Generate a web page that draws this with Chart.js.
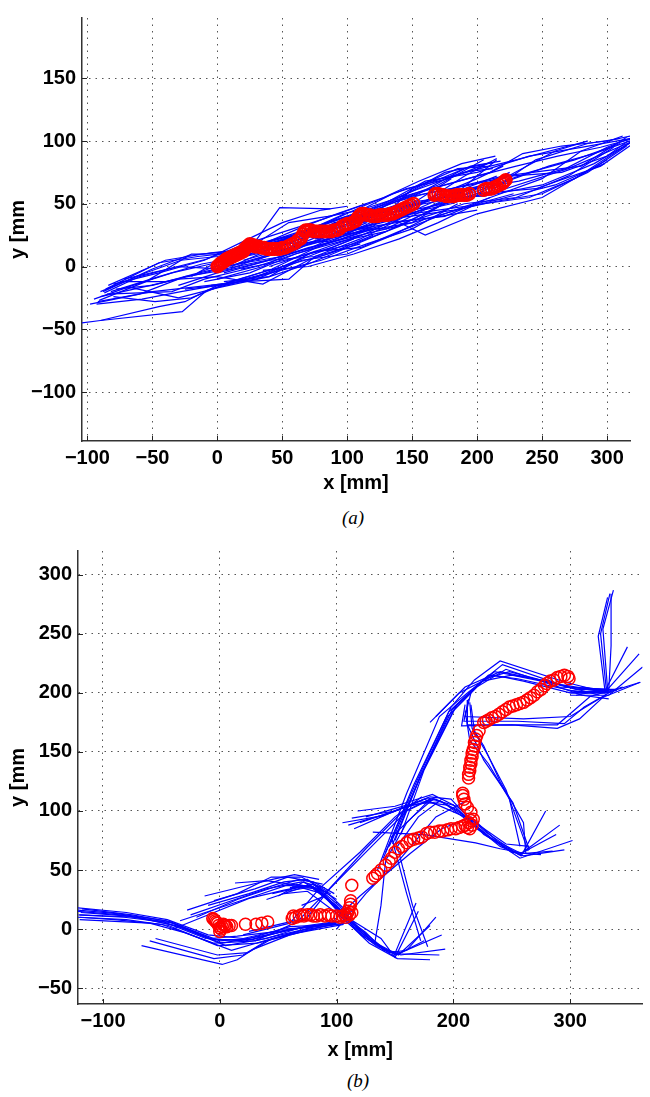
<!DOCTYPE html>
<html>
<head>
<meta charset="utf-8">
<script src="https://cdn.jsdelivr.net/npm/chart.js@4.4.1/dist/chart.umd.min.js"></script>
<style>
  html, body { margin: 0; padding: 0; background: #fff; }
  body { width: 650px; height: 1097px; position: relative; overflow: hidden; }
  canvas { position: absolute; left: 0; }
  #chartA { top: 0; width: 650px; height: 497px; }
  #chartB { top: 530px; width: 650px; height: 534px; }
  .caption { position: absolute; font-family: "Liberation Serif", serif; font-style: italic; font-size: 19px; color: #000; transform: translateX(-50%); }
</style>
</head>
<body>
<canvas id="chartA" width="650" height="497"></canvas>
<canvas id="chartB" width="650" height="534"></canvas>
<div class="caption" style="left:353px; top:507px;">(a)</div>
<div class="caption" style="left:358px; top:1070px;">(b)</div>
<script>
// ---- (a) straight swim ----
const topXTicks = [-100, -50, 0, 50, 100, 150, 200, 250, 300];
const topYTicks = [-100, -50, 0, 50, 100, 150];

// body outlines, tail side
const topTailBodies = [
  [[-105,-45],[-90,-43],[-27,-36],[-8,-19],[30,-8],[70,8],[105,22]],
  [[-90,-43],[-45,-32],[-25,-28],[0,-15],[40,-5],[75,12],[110,25]],
  [[-91,-27],[-55,-12],[-20,10],[5,10],[40,20],[70,30],[100,40]],
  [[-88,-20],[-50,-2],[-22,9],[10,12],[45,22],[75,28],[105,38]],
  [[-86,-18],[-45,3],[-15,8],[20,12],[55,35],[85,40],[110,45]],
  [[-90,-24],[-60,-17],[-30,-10],[0,-8],[35,-14],[70,5],[100,15]],
  [[-92,-28],[-50,-20],[-15,-16],[20,-12],[55,-10],[75,8],[110,18]],
  [[-84,-15],[-40,5],[-5,11],[25,14],[48,47],[87,46]],
  [[-80,-14],[-45,-5],[-10,5],[28,24],[50,35],[80,45],[100,48]],
  [[-85,-22],[-35,-20],[-10,-10],[30,0],[60,10],[90,20],[120,30]],
  [[-75,-12],[-40,-12],[-10,-5],[25,5],[60,15],[95,28],[125,35]],
  [[-70,-16],[-30,-25],[0,-17],[40,-8],[70,2],[100,15],[130,28]],
  [[-82,-20],[-45,-8],[-12,2],[20,8],[55,18],[85,32],[118,42]],
  [[-98,-30],[-60,-22],[-25,-8],[10,-2],[45,12],[80,20],[115,35]],
  [[-95,-26],[-65,-15],[-35,-5],[-5,2],[30,10],[65,22],[100,30]],
  [[-90,-20],[-55,-5],[-28,5],[0,8],[35,18],[68,28],[98,42]],
  [[-87,-21],[-60,-8],[-30,0],[5,-2],[38,5],[72,15],[108,32]],
  [[-93,-30],[-58,-26],[-28,-20],[5,-14],[42,-2],[78,16],[112,28]],
  [[-80,-24],[-48,-28],[-20,-25],[10,-12],[50,0],[85,10],[120,25]],
  [[-78,-18],[-50,-15],[-18,-6],[15,2],[50,8],[88,20],[124,38]],
  [[-72,-10],[-38,-2],[-8,6],[22,18],[52,28],[82,38],[115,50]]
];
// middle of the run
const topMidBodies = [
  [[-30,-15],[0,-5],[40,5],[70,15],[110,25],[150,35],[190,60]],
  [[-20,-8],[10,10],[45,20],[75,30],[110,38],[150,50],[180,70]],
  [[-10,-12],[25,-5],[60,10],[95,20],[130,28],[165,45],[200,62]],
  [[0,-10],[35,0],[70,18],[100,30],[135,52],[170,65],[205,85]],
  [[10,0],[45,10],[80,25],[110,45],[140,55],[175,75],[213,83]],
  [[5,-5],[40,5],[75,8],[110,22],[145,40],[180,55],[215,85]],
  [[15,2],[50,18],[85,20],[120,32],[150,62],[185,78],[210,80]],
  [[20,5],[55,15],[90,35],[125,40],[160,52],[190,72],[215,86]],
  [[-5,-15],[30,-10],[65,5],[100,10],[135,25],[160,38],[200,45]],
  [[25,10],[60,25],[95,38],[130,50],[160,65],[195,80],[218,84]],
  [[30,5],[65,18],[100,25],[135,35],[165,55],[200,70],[220,80]],
  [[35,15],[70,30],[105,42],[135,58],[165,68],[195,76],[212,78]],
  [[40,0],[75,12],[110,15],[140,28],[175,42],[210,55]],
  [[-15,-5],[20,8],[55,22],[85,30],[120,45],[155,58],[190,78]],
  [[-25,-18],[10,-14],[45,-4],[80,5],[115,18],[150,30],[185,50]],
  [[5,-12],[40,-8],[70,10],[105,18],[140,32],[170,48],[205,60]],
  [[12,8],[48,20],[78,32],[112,48],[145,62],[178,70],[210,83]],
  [[18,-2],[52,5],[88,15],[118,28],[152,45],[185,60],[215,72]],
  [[28,15],[62,30],[92,42],[128,55],[155,68],[188,82],[214,88]],
  [[45,10],[80,20],[115,32],[145,48],[178,58],[205,65],[225,75]],
  [[35,-3],[70,0],[105,10],[140,22],[170,35],[200,50],[228,58]]
];
// head side, end of the run
const topHeadBodies = [
  [[50,20],[90,30],[130,40],[160,25],[200,42],[250,55],[300,85]],
  [[60,25],[95,32],[130,45],[170,52],[210,58],[270,78],[320,100]],
  [[70,28],[110,40],[145,55],[180,62],[220,72],[280,80],[315,103]],
  [[80,30],[115,45],[150,60],[190,75],[230,85],[285,100]],
  [[90,32],[125,48],[160,68],[200,75],[240,88],[280,95],[318,102]],
  [[100,35],[140,50],[175,55],[205,56],[250,65],[290,82],[320,100]],
  [[110,40],[145,42],[180,50],[210,60],[245,85],[285,98],[310,102]],
  [[120,45],[155,50],[190,60],[220,70],[260,92],[285,100]],
  [[95,30],[130,30],[165,48],[200,58],[245,62],[295,80],[320,98]],
  [[105,38],[140,36],[175,40],[210,55],[250,70],[280,92],[312,104]],
  [[115,42],[150,45],[185,52],[215,65],[255,80],[290,90],[320,101]],
  [[125,48],[160,58],[195,65],[225,72],[265,75],[300,88],[316,100]],
  [[85,25],[120,32],[155,38],[190,50],[230,55],[270,72],[305,95]],
  [[130,50],[165,62],[200,72],[230,80],[262,88],[295,95],[320,102]],
  [[135,40],[170,45],[205,50],[240,55],[275,70],[305,90],[320,100]],
  [[140,55],[175,65],[210,75],[235,90],[265,96],[300,100],[318,104]],
  [[75,22],[112,28],[150,35],[185,45],[222,55],[260,65],[298,82]],
  [[100,28],[138,38],[170,50],[205,62],[240,75],[275,85],[310,98]],
  [[110,35],[148,40],[182,45],[215,52],[250,58],[285,75],[315,96]],
  [[128,40],[162,52],[198,62],[232,68],[268,78],[300,95],[320,103]]
];
// centroid positions (red circles)
const topCentroids = [
  [0,0],[1,1],[2,2],[3,3],[4,3],[5,4],[6,5],[7,6],[8,6],[9,7],[10,7],[11,8],[12,8],[13,9],[14,9],
  [15,10],[16,10],[17,11],[18,11],[19,12],[20,12],[21,14],[22,15],[23,16],[24,17],[25,18],[26,17],
  [27,17],[28,17],[29,16],[30,16],[32,16],[34,15],[36,15],[38,14],[40,14],[42,14],[44,14],[46,14],
  [48,14],[50,15],[52,15],[54,16],[56,17],[58,18],[60,19],[62,21],[64,22],[65,24],[66,26],[67,28],
  [68,29],[70,29],[72,29],[74,28],[76,28],[78,28],[80,28],[82,28],[84,28],[86,28],[88,28],[90,29],
  [92,29],[94,30],[96,32],[98,33],[100,34],[102,34],[104,35],[106,36],[107,37],[108,39],[109,40],
  [110,41],[111,42],[113,42],[115,41],[117,41],[119,40],[121,40],[123,40],[125,41],[127,41],[129,41],
  [131,41],[133,42],[135,42],[137,43],[139,44],[141,45],[143,46],[145,47],[147,48],[149,49],[151,50],
  [167,57],[168,58],[170,58],[172,57],[174,57],[176,56],[178,56],[180,56],[182,56],[184,57],[186,57],
  [188,57],[190,57],[192,57],[194,58],[205,61],[207,62],[209,62],[211,62],[213,63],[215,64],[217,65],
  [219,66],[220,67],[221,68],[222,69]
];

// ---- (b) turning swim ----
const bottomXTicks = [-100, 0, 100, 200, 300];
const bottomYTicks = [-50, 0, 50, 100, 150, 200, 250, 300];

const bottomTailBodies = [
  [[-122,18],[-80,14],[-45,8],[-10,-5],[20,-8],[55,0],[95,3],[115,6]],
  [[-122,15],[-85,12],[-40,5],[0,-10],[25,-8],[60,2],[100,4]],
  [[-122,10],[-90,8],[-50,4],[-5,-12],[30,-10],[65,-2],[105,5]],
  [[-120,12],[-70,10],[-35,2],[5,-14],[40,-8],[75,3],[112,8]],
  [[-118,17],[-75,12],[-42,6],[-8,-8],[15,-6],[50,-2],[90,4]],
  [[-120,8],[-60,5],[-30,-3],[10,-18],[45,-8],[80,0]],
  [[-119,14],[-78,11],[-38,3],[2,-12],[35,-6],[70,1],[108,7]],
  [[-121,12],[-82,10],[-48,6],[-12,-8],[22,-10],[58,-1],[98,5]],
  [[-122,16],[-88,13],[-46,7],[-6,-9],[28,-9],[62,0],[102,6]],
  [[-120,10],[-80,8],[-44,3],[-2,-14],[32,-12],[68,-3],[106,4]],
  [[-67,-14],[2,-30],[15,-26],[29,-17],[60,-5],[100,5]],
  [[-60,-10],[-5,-25],[20,-22],[40,-10],[80,2]],
  [[-55,-8],[-2,-22],[24,-20],[45,-8],[85,3]]
];
const bottomFanBodies = [
  [[-34,7],[0,18],[30,28],[57,37],[78,36],[95,30]],
  [[-13,28],[20,36],[45,42],[64,46],[85,42]],
  [[-25,12],[10,24],[40,34],[70,40],[90,35]],
  [[-40,0],[-5,14],[25,26],[55,33],[80,38],[100,25]],
  [[13,39],[40,41],[60,38],[78,36],[100,20],[110,10]],
  [[-10,20],[25,30],[55,40],[75,42],[95,28],[112,12]],
  [[-28,16],[15,30],[44,44],[70,44],[92,32]],
  [[-20,10],[15,25],[48,36],[68,42],[88,38]],
  [[-5,24],[30,34],[58,44],[80,40],[98,30]]
];
const bottomMidBodies = [
  [[60,35],[78,37],[95,22],[107,10],[121,-5],[149,-23],[168,22]],
  [[65,38],[82,35],[100,18],[115,2],[130,-10],[153,-22],[180,3]],
  [[55,30],[75,32],[98,15],[118,-2],[135,-15],[155,-22],[193,-17]],
  [[50,28],[72,40],[92,25],[110,5],[128,-12],[152,-25],[180,-26]],
  [[70,20],[90,28],[105,12],[125,-3],[140,-18],[155,-20],[190,-5]],
  [[40,25],[70,35],[88,30],[112,8],[138,-8],[150,-24],[170,15]],
  [[45,30],[80,38],[102,20],[120,0],[145,-20],[160,-18],[185,10]],
  [[58,32],[80,36],[99,20],[116,3],[133,-12],[151,-22],[175,-10]],
  [[62,36],[84,34],[103,16],[122,-4],[142,-18],[154,-21],[188,-22]],
  [[20,-5],[60,5],[85,34],[120,65],[150,95],[173,112]],
  [[30,-10],[75,10],[95,35],[130,70],[160,100],[185,112]],
  [[25,-2],[68,8],[90,30],[125,68],[155,98],[180,110]],
  [[95,5],[120,28],[163,64],[190,85],[215,95],[240,72]],
  [[100,0],[125,30],[155,60],[185,95],[210,108]],
  [[185,112],[165,95],[147,78],[160,30],[172,-10]],
  [[180,110],[160,90],[142,58],[138,20],[133,-10]],
  [[190,110],[170,95],[152,70],[165,20],[178,-15]]
];
const bottomUpperBodies = [
  [[113,94],[150,100],[180,112],[198,110],[226,80],[258,62],[279,100]],
  [[120,90],[155,102],[185,110],[205,100],[230,78],[258,64],[291,88]],
  [[115,85],[145,98],[175,110],[210,95],[235,75],[257,60],[302,75]],
  [[125,95],[160,105],[190,108],[215,90],[240,70],[260,62],[295,67]],
  [[131,82],[175,80],[219,73],[240,68],[262,64],[285,66]],
  [[118,100],[150,104],[182,114],[200,105],[220,85],[250,65],[275,63]],
  [[105,90],[140,96],[170,108],[195,105],[222,88],[245,72],[265,70]],
  [[110,88],[148,99],[178,111],[203,104],[228,82],[256,63],[288,80]],
  [[140,60],[166,122],[198,188],[218,211],[240,227],[296,209],[332,200]],
  [[145,70],[170,125],[195,180],[220,205],[245,220],[290,205],[330,203]],
  [[150,75],[172,130],[200,185],[225,210],[250,215],[300,205],[335,200]],
  [[155,80],[175,135],[203,190],[230,215],[255,212],[310,200],[340,202]],
  [[135,50],[160,115],[188,180],[212,200],[235,218],[280,210],[325,198]],
  [[142,65],[168,124],[196,184],[222,208],[242,224],[292,207],[331,201]],
  [[148,72],[171,128],[199,186],[227,212],[248,218],[305,203],[338,203]],
  [[180,175],[205,200],[235,215],[260,210],[300,200],[330,200]],
  [[185,180],[210,205],[240,218],[270,212],[310,198],[333,195]],
  [[210,190],[207,172],[250,173],[289,170],[308,178],[331,199]],
  [[212,194],[212,173],[254,173],[289,173],[317,197],[345,205]],
  [[215,200],[210,180],[260,178],[300,180],[325,195],[360,209]],
  [[213,195],[209,176],[255,176],[295,174],[312,188],[333,200]],
  [[212,194],[212,173],[226,143],[251,107],[265,67]],
  [[215,190],[218,168],[226,155],[240,125],[260,90],[262,64]],
  [[210,185],[214,160],[230,140],[248,110],[257,70]],
  [[214,192],[216,170],[228,150],[245,118],[259,80],[264,66]]
];
const bottomSpikeBodies = [
  [[300,200],[330,200],[324,248],[332,281]],
  [[305,198],[332,203],[328,254],[337,287]],
  [[310,205],[333,202],[335,240],[335,284]],
  [[303,201],[331,202],[326,250],[334,284]],
  [[295,205],[332,203],[359,233]],
  [[300,202],[331,200],[360,209]],
  [[305,200],[330,202],[349,239]],
  [[300,198],[333,198],[362,222]]
];
const bottomCentroids = [
  [-6,9],[-5,8],[-4,7],[-3,6],[-2,5],[-1,3],[0,1],[0,-2],[1,0],[2,2],[3,4],[4,3],[5,3],[6,2],[8,3],[10,3],
  [22,4],[31,4],[36,5],[41,6],
  [62,9],[63,11],[65,10],[68,11],[70,12],[72,11],[75,12],[78,12],[80,11],[83,11],[86,12],[90,11],[93,12],
  [96,11],[100,11],[103,10],[105,11],[107,12],[108,10],[109,13],[110,15],[111,18],[112,21],[112,24],
  [111,12],[113,14],
  [113,37],
  [131,43],[133,45],[135,47],[138,50],[142,54],[145,57],[147,60],[150,65],[153,68],[156,70],[160,73],
  [163,75],[166,76],[170,77],[173,78],[177,81],[180,82],[184,82],[188,83],[191,83],[195,84],[198,85],
  [202,85],[205,86],[208,87],[210,88],[212,86],[213,90],[215,92],[217,93],[216,88],[214,85],
  [208,115],[208,113],[209,110],[210,106],[212,103],[215,99],
  [213,128],[213,131],[214,134],[214,137],[215,140],[215,143],[216,146],[216,149],[217,152],[218,155],
  [218,158],[219,161],[220,164],[222,168],
  [226,175],[228,176],[230,177],[233,179],[236,180],[239,182],[242,184],[245,186],[248,188],[251,189],
  [254,190],[257,191],[260,192],[263,194],[266,196],[269,198],[272,201],[275,203],[278,206],[280,208],
  [283,210],[286,211],[289,213],[292,214],[295,215],[298,214],[299,212]
];

Chart.defaults.font.family = '"Liberation Sans", Arial, sans-serif';
Chart.defaults.font.size = 20;
Chart.defaults.font.weight = 'bold';
Chart.defaults.color = '#000';

// MATLAB style ticks pointing into the plot
const innerTicks = {
  id: 'innerTicks',
  afterDraw(chart) {
    const { ctx, chartArea, scales } = chart;
    ctx.save();
    ctx.strokeStyle = '#222';
    ctx.lineWidth = 1;
    ctx.beginPath();
    scales.x.ticks.forEach(t => {
      const px = Math.round(scales.x.getPixelForValue(t.value)) + 0.5;
      ctx.moveTo(px, chartArea.bottom);
      ctx.lineTo(px, chartArea.bottom - 5);
    });
    scales.y.ticks.forEach(t => {
      const py = Math.round(scales.y.getPixelForValue(t.value)) + 0.5;
      ctx.moveTo(chartArea.left, py);
      ctx.lineTo(chartArea.left + 5, py);
    });
    ctx.stroke();
    ctx.restore();
  }
};

function toPoints(list) {
  return list.map(p => ({ x: p[0], y: p[1] }));
}

function buildDatasets(groups, centroids, ringWidth) {
  const sets = [{
    data: toPoints(centroids),
    showLine: false,
    pointStyle: 'circle',
    pointRadius: 6,
    pointBorderWidth: ringWidth,
    pointBorderColor: '#ff0000',
    pointBackgroundColor: 'rgba(0,0,0,0)',
    order: 0
  }];
  groups.forEach(group => {
    group.forEach(body => {
      sets.push({
        data: toPoints(body),
        showLine: true,
        borderColor: '#0000ff',
        borderWidth: 1.2,
        pointRadius: 0,
        tension: 0,
        order: 1
      });
    });
  });
  return sets;
}

function tickLabel(v) {
  return v < 0 ? '\u2212' + Math.abs(v) : String(v);
}

function buildOptions(cfg) {
  const gridStyle = { color: '#555', lineWidth: 1, drawTicks: false };
  const borderStyle = { display: true, color: '#333', width: 1.5, dash: [1.5, 5] };
  return {
    responsive: false,
    animation: false,
    events: [],
    layout: { padding: cfg.padding },
    plugins: { legend: { display: false }, tooltip: { enabled: false } },
    scales: {
      x: {
        type: 'linear',
        min: cfg.xMin,
        max: cfg.xMax,
        grid: gridStyle,
        border: borderStyle,
        afterBuildTicks: s => { s.ticks = cfg.xTicks.map(v => ({ value: v })); },
        afterFit: s => { s.height = cfg.xHeight; },
        ticks: { padding: 5, callback: tickLabel, maxRotation: 0 },
        title: { display: true, text: 'x [mm]', padding: { top: 0, bottom: 2 } }
      },
      y: {
        type: 'linear',
        min: cfg.yMin,
        max: cfg.yMax,
        grid: gridStyle,
        border: borderStyle,
        afterBuildTicks: s => { s.ticks = cfg.yTicks.map(v => ({ value: v })); },
        afterFit: s => { s.width = cfg.yWidth; },
        ticks: { padding: 6, callback: tickLabel },
        title: { display: true, text: 'y [mm', padding: { top: 6, bottom: 0 } }
      }
    }
  };
}

new Chart(document.getElementById('chartA'), {
  type: 'scatter',
  data: { datasets: buildDatasets([topTailBodies, topMidBodies, topHeadBodies], topCentroids, 2) },
  options: buildOptions({
    xMin: -104.2, xMax: 317.6, yMin: -139, yMax: 198,
    xTicks: topXTicks, yTicks: topYTicks,
    padding: { top: 10, right: 20, left: 0, bottom: 0 },
    yWidth: 82, xHeight: 56
  }),
  plugins: [innerTicks]
});

new Chart(document.getElementById('chartB'), {
  type: 'scatter',
  data: { datasets: buildDatasets([bottomTailBodies, bottomFanBodies, bottomMidBodies, bottomUpperBodies, bottomSpikeBodies], bottomCentroids, 1.5) },
  options: buildOptions({
    xMin: -121.4, xMax: 361.9, yMin: -63.5, yMax: 320.2,
    xTicks: bottomXTicks, yTicks: bottomYTicks,
    padding: { top: 21, right: 0, left: 0, bottom: 0 },
    yWidth: 78, xHeight: 60
  }),
  plugins: [innerTicks]
});
</script>
</body>
</html>
